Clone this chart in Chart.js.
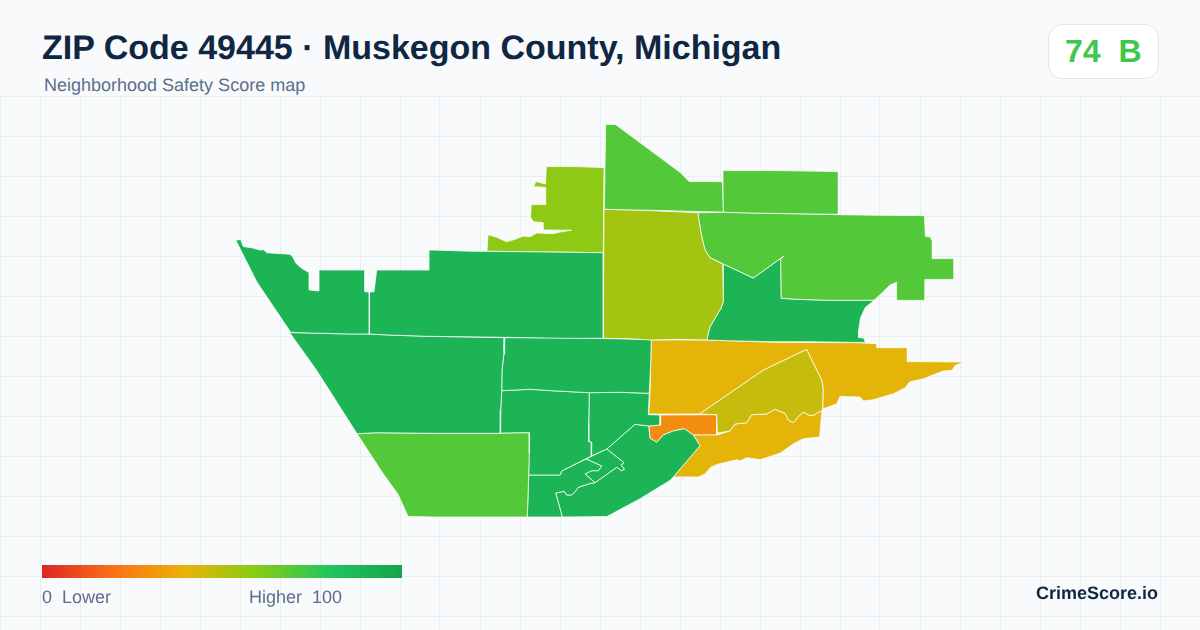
<!DOCTYPE html>
<html><head><meta charset="utf-8">
<script src="https://cdn.jsdelivr.net/npm/chart.js@4"></script>
<style>
html,body{margin:0;padding:0;background:#f8fafc;}
body{width:1200px;height:630px;overflow:hidden;position:relative;font-family:"Liberation Sans",Arial,sans-serif;text-rendering:geometricPrecision;}
#wrap{position:absolute;left:0;top:96px;width:1200px;height:534px;}
.t{position:absolute;white-space:pre;line-height:1;}
#title{left:42px;top:31px;font-size:34px;font-weight:700;color:#0f2742;}
#sub{left:44px;top:76px;font-size:18px;color:#5b6f8c;}
#badge{position:absolute;left:1048px;top:24px;width:109px;height:53px;background:#fff;border:1px solid #e2e8f0;border-radius:14px;}
#score{left:1065px;top:35px;font-size:32px;font-weight:700;color:#3fc74e;}
#ramp{position:absolute;left:42px;top:565px;width:360px;height:13px;background:linear-gradient(90deg,#dc2626 0%,#f97316 20%,#eab308 40%,#84cc16 60%,#22c55e 80%,#16a34a 100%);}
#lo{left:42px;top:588px;font-size:18px;color:#5b6f8c;}
#hi{left:249px;top:588px;font-size:18px;color:#5b6f8c;}
#brand{right:42px;top:584px;font-size:18px;font-weight:700;color:#0f2742;}
</style></head><body>
<div id="wrap"><canvas id="c" width="1200" height="534"></canvas></div>
<div class="t" id="title">ZIP Code 49445 · Muskegon County, Michigan</div>
<div class="t" id="sub">Neighborhood Safety Score map</div>
<div id="badge"></div><div class="t" id="score">74  B</div>
<div id="ramp"></div>
<div class="t" id="lo">0  Lower</div>
<div class="t" id="hi">Higher  100</div>
<div class="t" id="brand">CrimeScore.io</div>
<script>
const rampStops=[0,20,40,60,80,100];
const rampColors=[[220,38,38],[249,115,22],[234,179,8],[132,204,22],[34,197,94],[22,163,74]];
const gridX=[0,40,80,120,160,200,240,280,320,360,400,440,480,520,560,600,640,680,720,760,800,840,880,920,960,1000,1040,1080,1120,1160,1200];
const gridY=[96.5,136.5,176.5,216.5,256.5,296.5,336.5,376.5,416.5,456.5,496.5,536.5,576.5,616.5];

const tractNames=["A","B","C","D","E","F","G","H","I","J","K","L","M","P","Q","R","S","T","U","V"];
const tractScores=[90,90,58,70,70,54,70,90,90,70,90,90,90,90,90,90,41,47,41,28];
const tractA=[[235.7,240],[240.7,239.5],[243.3,246.5],[253,248],[260,250],[264,249.7],[266.7,252.7],[290,254.3],[292.7,256.7],[296,263.3],[301.7,268.3],[309.3,272.7],[309.3,290],[319,291],[319,270],[365,270],[365,291.7],[369.3,292],[369.3,334],[350,334],[310,333],[290.7,332.3],[256.7,281.7]];
const tractB=[[369.3,292],[374,291.7],[376.7,270],[429,270],[429,250],[441.7,250.3],[471.7,251.3],[486.7,251.3],[545,252],[603.3,252.7],[603.3,338.3],[563.3,338.3],[503.3,337.3],[426.7,336.3],[388.3,335],[369.3,334]];
const tractC=[[487,251.3],[488,234.5],[496.7,237.3],[506.7,241.7],[515,239.3],[523.3,236],[530,236.7],[536.7,233],[553.3,233.7],[560,232],[571.5,230.2],[543.3,230],[543.3,222.7],[533.3,221.7],[530.5,217.3],[531.2,204.6],[545.7,204.6],[545.7,187.3],[533.5,186.7],[535.8,181.5],[545.5,184],[546.3,166.6],[575,166.6],[604,167.6],[603.3,252.7],[545,252]];
const tractD=[[605.7,124.5],[615.5,124.5],[680,172.3],[689,181.4],[722.3,181.6],[723.3,212],[703.3,211.7],[651.7,210.3],[623.3,209.7],[604.3,209.3]];
const tractE=[[723,170.6],[780,170.6],[838.4,171.6],[838.4,214.3],[810,214],[751.7,213],[723.7,212.3]];
const tractF=[[604,209.3],[623.3,209.7],[651.7,210.7],[697.7,212.7],[701.7,236.7],[705,250],[710,257.7],[722.7,264],[723.3,301.7],[721,308.3],[710,326.7],[706.7,340],[676.7,339.3],[651.7,340],[628.3,338.7],[603.3,338.3]];
const tractG=[[697.7,212.7],[723.3,212.3],[751.7,213],[810,214],[838,214.7],[879.3,215.3],[924.4,215.6],[925.4,236.3],[930.4,237],[932.4,241.7],[932.4,258.6],[954.1,258.6],[954.1,279.4],[925.4,279.4],[925.1,300.4],[896.6,300.4],[896.6,282.3],[890,285],[883.3,291.7],[874,300.3],[850,300.3],[828.3,300.3],[796.7,299.3],[781.3,298.3],[780.7,258.3],[784.3,256],[780.7,258.3],[753.3,278],[723.3,264],[710,257.7],[705,250],[701.7,236.7]];
const tractH=[[723.3,264],[753.3,278],[780.7,258.3],[781.3,298.3],[796.7,299.3],[828.3,300.3],[874.4,300.3],[865.4,307.3],[860.4,318.3],[858.7,330],[858.7,337.5],[863.7,338],[865.4,342.5],[806.7,341.7],[773.3,341.7],[726.7,340.7],[706.7,340],[710,326.7],[721,308.3],[723.3,301.7]];
const tractI=[[289.7,332.7],[310,333],[350,334],[369.3,334],[389,335],[426.7,336.3],[486.7,337.3],[504.7,337.7],[504,353.3],[502,370],[501.7,390.7],[500.7,410],[500.3,433.3],[433.3,433.3],[376.7,432.7],[357,433.7],[316.4,370]];
const tractJ=[[357,433.7],[376.7,432.7],[433.3,433.3],[500.3,433.3],[515,433],[529.3,432.7],[529.3,453.3],[528.7,475],[527.3,517],[433.3,517],[408,516.4],[398,494.2],[383,473.5]];
const tractK=[[504.7,337.7],[563.3,337.7],[626.7,339],[651.3,339.7],[650.7,363.3],[649.3,393.3],[620,392.3],[589.3,392.7],[556.7,391],[530,389.3],[501.7,390.7],[502,370],[504,353.3]];
const tractL=[[501.7,390.7],[530,389.3],[556.7,391],[589.3,392.7],[588.7,423.3],[588.7,441.7],[591.7,442.3],[591.3,456],[561.7,471],[560,475],[528.7,475],[529.3,432.7],[500.3,433.3],[500.7,410]];
const tractM=[[589.3,392.7],[620,392.3],[649.3,393.3],[648.3,414.7],[660.7,415],[660,425],[648.7,426],[635,424.3],[606.7,449],[591.3,456],[591.7,442.3],[588.7,441.7],[588.7,423.3]];
const tractP=[[528.7,475],[560,475],[561.7,471],[586,459],[601.7,466],[598.3,470.7],[591.7,470.7],[585,474],[595,482.7],[590.7,483.3],[578.3,487.3],[575,491.7],[571.7,495],[566.7,495],[564.3,491.3],[555.7,493],[562.3,517],[527.3,517]];
const tractQ=[[586,459],[606.7,449],[624,462.7],[621,465],[624.3,469.3],[621.7,470.7],[616.7,467.3],[595,482.7],[585,474],[591.7,470.7],[598.3,470.7],[601.7,466]];
const tractR=[[606.7,449],[635,424.3],[648.7,426],[650,438.3],[656.7,442.3],[663.3,435],[673.3,431],[684.3,428.7],[693.3,435],[700,445.7],[673.3,476.9],[670,480.4],[653.6,490.4],[640.2,498.7],[613.5,513],[606.9,516.6],[562.3,517],[555.7,493],[564.3,491.3],[566.7,495],[571.7,495],[575,491.7],[578.3,487.3],[590.7,483.3],[595,482.7],[616.7,467.3],[621.7,470.7],[624.3,469.3],[621,465],[624,462.7]];
const tractS=[[651.3,340],[676.7,340],[706.7,340],[773.3,342.3],[858.3,342.7],[877,343.7],[877,347.7],[907.4,347.7],[907.4,361.6],[964.5,362],[955.3,365.4],[952,370.4],[943,371],[923.6,378.7],[909.6,382],[905.3,387.7],[893.6,393.7],[873.5,399.7],[863.3,401],[860,397],[840,396.4],[836.9,403.7],[822.9,409],[823.3,388.3],[821.7,380],[806.7,349.3],[763.3,370],[699.3,414],[648.7,414],[650,393.3]];
const tractT=[[806.7,349.3],[821.7,380],[823.3,388.3],[822.7,410],[813.3,415.3],[808.3,415],[803.3,412],[798.3,416.7],[793.3,422.7],[788.3,420],[785,413.3],[775,409.3],[766.7,414],[751.7,414.7],[746.7,422.7],[735,424],[730,431],[717.3,433],[716.7,414.7],[699.3,414],[763.3,370]];
const tractU=[[693.3,435],[716.7,435],[730,431],[735,424],[746.7,422.7],[751.7,414.7],[766.7,414],[775,409.3],[785,413.3],[788.3,420],[793.3,422.7],[798.3,416.7],[803.3,412],[808.3,415],[813.3,415.3],[822,410],[819.6,437],[803.5,438.7],[793.6,443.7],[780.3,453],[770.3,456.4],[760,459.7],[746.9,457.7],[740,461],[736.9,459.7],[716.9,464.4],[710.3,467.7],[705.3,473.7],[698.5,477],[673.3,476.9],[700,445.7]];
const tractV=[[660.7,415],[716.7,414.7],[716.7,435],[693.3,435],[684.3,428.7],[673.3,431],[663.3,435],[656.7,442.3],[650,438.3],[648.7,426],[660,425]];
const tractShapes=[tractA,tractB,tractC,tractD,tractE,tractF,tractG,tractH,tractI,tractJ,tractK,tractL,tractM,tractP,tractQ,tractR,tractS,tractT,tractU,tractV];

function scoreColor(s){
  let i=0; while(i<rampStops.length-2 && s>rampStops[i+1]) i++;
  const t=(s-rampStops[i])/(rampStops[i+1]-rampStops[i]);
  const c=rampColors[i].map((v,k)=>Math.round(v+(rampColors[i+1][k]-v)*t));
  return `rgb(${c[0]},${c[1]},${c[2]})`;
}
const datasets=tractShapes.map((shape,i)=>{
  const pts=shape.map(p=>({x:p[0],y:p[1]}));
  pts.push(pts[0]);
  return {label:tractNames[i],data:pts,showLine:true,fill:'shape',tension:0,
    backgroundColor:scoreColor(tractScores[i]),borderColor:'rgba(255,255,255,0.85)',borderWidth:0.9,
    pointRadius:0,pointHoverRadius:0,borderJoinStyle:'round'};
});
new Chart(document.getElementById('c'),{
  type:'scatter',
  data:{datasets},
  options:{
    responsive:false,animation:false,devicePixelRatio:1,
    layout:{padding:0},
    plugins:{legend:{display:false},tooltip:{enabled:false},title:{display:false}},
    events:[],
    scales:{
      x:{type:'linear',min:0,max:1200,
        afterBuildTicks:a=>{a.ticks=gridX.map(v=>({value:v}));},
        ticks:{display:false},border:{display:false},
        grid:{color:'#e8eff3',lineWidth:1,drawTicks:false}},
      y:{type:'linear',min:96,max:630,reverse:true,
        afterBuildTicks:a=>{a.ticks=gridY.map(v=>({value:v}));},
        ticks:{display:false},border:{display:false},
        grid:{color:'#e8eff3',lineWidth:1,drawTicks:false}}
    }
  }
});
</script>
</body></html>
